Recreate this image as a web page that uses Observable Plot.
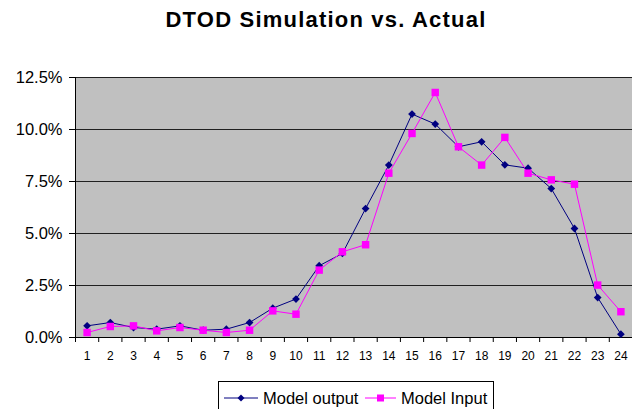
<!DOCTYPE html>
<html>
<head>
<meta charset="utf-8">
<script src="https://cdn.jsdelivr.net/npm/d3@7"></script>
<script src="https://cdn.jsdelivr.net/npm/@observablehq/plot@0.6"></script>
<style>
  body { margin: 0; background: #fff; font-family: "Liberation Sans", Arial, sans-serif; }
  #wrap { position: relative; width: 632px; height: 409px; overflow: hidden; background: #fff; }
  #title { position: absolute; left: 0; top: 9px; width: 652px; text-align: center; font-weight: bold; font-size: 22px; letter-spacing: 1.2px; line-height: 22px; color: #000; }
  #chart { position: absolute; left: 0; top: 50px; }
  #legend { position: absolute; left: 218px; top: 381px; width: 274px; height: 40px; border: 1px solid #000; background: #fff; }
  #legend svg { position: absolute; left: 0; top: 0; }
  #legend span { position: absolute; top: 6px; font-size: 16.5px; line-height: 20px; color: #000; white-space: nowrap; }
</style>
</head>
<body>
<div id="wrap">
  <div id="title">DTOD Simulation vs. Actual</div>
  <div id="chart"></div>
  <div id="legend"></div>
</div>
<script>
// ---- data ----
const hours = [1,2,3,4,5,6,7,8,9,10,11,12,13,14,15,16,17,18,19,20,21,22,23,24];
const modelOutput = [0.0056,0.0072,0.0048,0.0040,0.0056,0.0035,0.0040,0.0072,0.0141,0.0185,0.0345,0.0404,0.0620,0.0829,0.1074,0.1026,0.0917,0.0941,0.0830,0.0814,0.0716,0.0524,0.0192,0.0016];
const modelInput  = [0.0024,0.0053,0.0056,0.0032,0.0048,0.0035,0.0024,0.0035,0.0128,0.0112,0.0324,0.0412,0.0446,0.0790,0.0981,0.1178,0.0917,0.0829,0.0962,0.0790,0.0758,0.0737,0.0252,0.0124];
const yTicks = [0, 0.025, 0.05, 0.075, 0.1, 0.125];
const seriesNames = ["Model output", "Model Input"];
const seriesColors = ["#000080", "#ff00ff"];

const outRows = hours.map((h, i) => ({hour: h, value: modelOutput[i]}));
const inRows = hours.map((h, i) => ({hour: h, value: modelInput[i]}));
const edges = hours.map(h => h - 0.5).concat([hours[hours.length - 1] + 0.5]);

const chart = Plot.plot({
  width: 632,
  height: 325,
  marginLeft: 75,
  marginRight: 0,
  marginTop: 27,
  marginBottom: 38,
  style: {fontFamily: "'Liberation Sans', Arial, sans-serif", background: "transparent", color: "#000", overflow: "visible"},
  x: {type: "linear", domain: [0.5, 24.5], axis: null, label: null},
  y: {domain: [0, 0.125], axis: null, label: null},
  marks: [
    Plot.frame({fill: "#c0c0c0", stroke: "#9a9a9a"}),
    Plot.gridY(yTicks, {stroke: "#202020", strokeOpacity: 1, strokeWidth: 1}),
    Plot.axisY(yTicks, {tickFormat: d3.format(".1%"), tickSize: 6, tickPadding: 7, fontSize: 16.5, stroke: "#000", label: null}),
    Plot.axisX(hours, {tickSize: 0, tickPadding: 14, fontSize: 12, tickFormat: d => String(d), label: null}),
    Plot.axisX(edges, {tickSize: 5, tickFormat: () => "", stroke: "#000", label: null}),
    Plot.ruleX([0.5], {stroke: "#000"}),
    Plot.ruleY([0], {stroke: "#000"}),
    Plot.line(outRows, {x: "hour", y: "value", stroke: seriesColors[0], strokeWidth: 1}),
    Plot.line(inRows, {x: "hour", y: "value", stroke: seriesColors[1], strokeWidth: 1}),
    Plot.dot(outRows, {x: "hour", y: "value", symbol: "diamond2", r: 3.5, fill: seriesColors[0], stroke: "none"}),
    Plot.dot(inRows, {x: "hour", y: "value", symbol: "square", r: 4.2, fill: seriesColors[1], stroke: "none"})
  ]
});
document.getElementById("chart").appendChild(chart);

// ---- legend ----
const legend = document.getElementById("legend");
const ns = "http://www.w3.org/2000/svg";
const sw = document.createElementNS(ns, "svg");
sw.setAttribute("width", 274);
sw.setAttribute("height", 40);
const swatchX = [[5, 39], [146, 177]];
const textX = [44, 182];
swatchX.forEach(([a, b], i) => {
  const l = document.createElementNS(ns, "line");
  l.setAttribute("x1", a); l.setAttribute("x2", b);
  l.setAttribute("y1", 16); l.setAttribute("y2", 16);
  l.setAttribute("stroke", seriesColors[i]); l.setAttribute("stroke-width", 1);
  sw.appendChild(l);
  const m = (a + b) / 2;
  if (i === 0) {
    const p = document.createElementNS(ns, "path");
    p.setAttribute("d", `M${m},12.5L${m+3.5},16L${m},19.5L${m-3.5},16Z`);
    p.setAttribute("fill", seriesColors[i]);
    sw.appendChild(p);
  } else {
    const r = document.createElementNS(ns, "rect");
    r.setAttribute("x", m - 3.5); r.setAttribute("y", 12.5);
    r.setAttribute("width", 7); r.setAttribute("height", 7);
    r.setAttribute("fill", seriesColors[i]);
    sw.appendChild(r);
  }
});
legend.appendChild(sw);
seriesNames.forEach((n, i) => {
  const s = document.createElement("span");
  s.textContent = n;
  s.style.left = textX[i] + "px";
  legend.appendChild(s);
});
</script>
</body>
</html>
